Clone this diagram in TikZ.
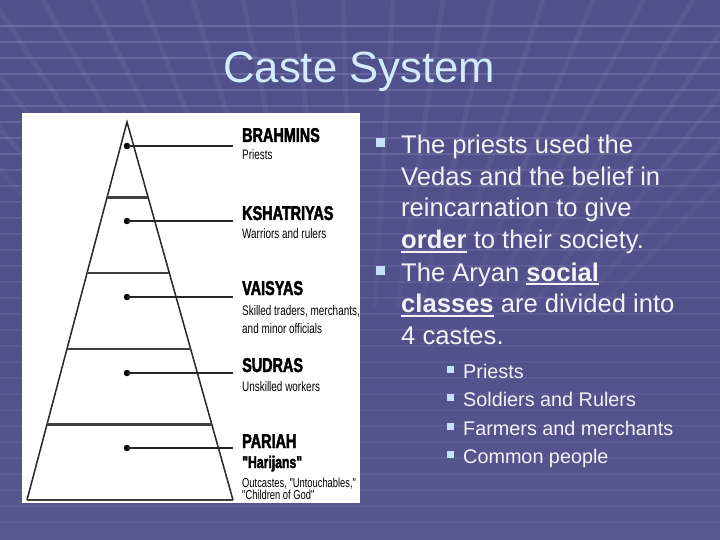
\documentclass[tikz,border=0pt]{standalone}
\usepackage{fontspec}
\setmainfont{Liberation Sans}
\newfontfamily\headfont[FakeStretch=0.72,BoldFeatures={FakeBold=2.2}]{Liberation Sans}
\newfontfamily\subfont[FakeStretch=0.72]{Liberation Sans}
\usetikzlibrary{calc}
\definecolor{bgtop}{RGB}{108,108,162}
\definecolor{bgmid}{RGB}{80,80,138}
\definecolor{bgbot}{RGB}{98,98,152}
\definecolor{gridc}{RGB}{140,140,190}
\definecolor{titlec}{RGB}{212,234,255}
\definecolor{bodyc}{RGB}{242,242,248}
\definecolor{bulletc}{RGB}{196,226,250}
\pgfdeclareverticalshading{slidebg}{100bp}{color(0bp)=(bgbot); color(45bp)=(bgmid); color(75bp)=(bgmid); color(100bp)=(bgtop)}
\newcommand\ulbold[1]{\setbox0\hbox{\bfseries #1}\rlap{\raisebox{-4pt}{\rule{\wd0}{1.8pt}}}\box0\relax}
\tikzset{
  hline/.style={draw=gridc, line width=1.6pt},
  dline/.style={draw=gridc, line width=5pt},
  head/.style={anchor=base west, inner sep=0, font=\headfont\bfseries\fontsize{20}{20}\selectfont},
  harij/.style={anchor=base west, inner sep=0, font=\headfont\bfseries\fontsize{17}{17}\selectfont},
  sub/.style={anchor=base west, inner sep=0, font=\subfont\fontsize{13.8}{13.8}\selectfont},
  subs/.style={anchor=base west, inner sep=0, font=\subfont\fontsize{13}{13}\selectfont},
  body/.style={anchor=base west, inner sep=0, text=bodyc, font=\fontsize{25.6}{30}\selectfont},
  small/.style={anchor=base west, inner sep=0, text=bodyc, font=\fontsize{19.8}{24}\selectfont},
  bul/.style={fill=bulletc, minimum size=9pt, inner sep=0},
  sbul/.style={fill=bulletc, minimum size=7pt, inner sep=0},
  pyr/.style={line width=1.5pt, draw=black!85},
  divl/.style={line width=2.2pt, draw=black!75},
  dotn/.style={circle, fill=black, minimum size=6.5pt, inner sep=0},
  lead/.style={line width=1.7pt, draw=black!85}
}
\begin{document}
\begin{tikzpicture}[x=1pt,y=-1pt]
\useasboundingbox (0,0) rectangle (720,540);
\shade[shading=slidebg] (0,0) rectangle (720,540);
\begin{scope}
\clip (0,0) rectangle (720,540);
\foreach \i in {0,...,31} {
  \pgfmathsetmacro\op{max(0.12,0.42-0.012*\i)}
  \draw[hline,opacity=\op] (0,{26+16*\i}) -- (720,{26+16*\i});
}
\foreach \xt in {-157,-107,...,893} {
  \draw[dline,opacity=0.16] (\xt,0) -- ({\xt+(360-\xt)*0.3},168);
  \draw[dline,opacity=0.09] ({\xt+(360-\xt)*0.3},168) -- ({\xt+(360-\xt)*0.55},308);
}
\end{scope}

% title
\node[anchor=base west, inner sep=0, text=titlec, font=\fontsize{43.7}{50}\selectfont] (title) at (223,83) {Caste System};

% picture panel
\fill[white] (22,113) rectangle (360,503);
\coordinate (apex) at (127,122);
\coordinate (bl) at (27,500);
\coordinate (br) at (233,500);
\draw[pyr] (bl) -- (apex) -- (br);
\draw[divl] (bl) -- (br);
\foreach \t in {0.2,0.4,0.6,0.8}
  \draw[divl] ($(apex)!\t!(bl)$) -- ($(apex)!\t!(br)$);

\node[dotn] (d1) at (127,146) {};
\node[dotn] (d2) at (127,221) {};
\node[dotn] (d3) at (127,297) {};
\node[dotn] (d4) at (127,373) {};
\node[dotn] (d5) at (127,448) {};
\coordinate (e1) at (233,146);
\coordinate (e2) at (233,221);
\coordinate (e3) at (233,297);
\coordinate (e4) at (233,373);
\coordinate (e5) at (233,448);
\foreach \k in {1,...,5} \draw[lead] (d\k.center) -- (e\k);

\node[head] (h1) at (242,142) {BRAHMINS};
\node[sub] (p1) at (242,160) {Priests};
\node[head] (h2) at (242,220) {KSHATRIYAS};
\node[sub] (p2) at (242,238) {Warriors and rulers};
\node[head] (h3) at (242,295) {VAISYAS};
\node[sub] (p3a) at (242,315) {Skilled traders, merchants,};
\node[sub] (p3b) at (242,333) {and minor officials};
\node[head] (h4) at (242,372) {SUDRAS};
\node[sub] (p4) at (242,391) {Unskilled workers};
\node[head] (h5) at (242,448) {PARIAH};
\node[harij] (h5b) at (242,468) {"Harijans"};
\node[subs] (p5a) at (242,487) {Outcastes, "Untouchables,"};
\node[subs] (p5b) at (242,499) {"Children of God"};

% right text
\node[bul] (b1) at (380.5,143) {};
\node[body] (l1) at (401,154) {The priests used the};
\node[body] (l2) at (401,185.5) {Vedas and the belief in};
\node[body] (l3) at (401,217) {reincarnation to give};
\node[body] (l4) at (401,248.5) {\ulbold{order} to their society.};
\node[bul] (b2) at (380.5,270) {};
\node[body] (l5) at (401,281) {The Aryan \ulbold{social}};
\node[body] (l6) at (401,312.5) {\ulbold{classes} are divided into};
\node[body] (l7) at (401,344) {4 castes.};

\node[sbul] (s1) at (450.5,369) {};
\node[small] (m1) at (463,378) {Priests};
\node[sbul] (s2) at (450.5,397.5) {};
\node[small] (m2) at (463,406.5) {Soldiers and Rulers};
\node[sbul] (s3) at (450.5,426) {};
\node[small] (m3) at (463,435) {Farmers and merchants};
\node[sbul] (s4) at (450.5,454.5) {};
\node[small] (m4) at (463,463.5) {Common people};
\end{tikzpicture}
\end{document}
